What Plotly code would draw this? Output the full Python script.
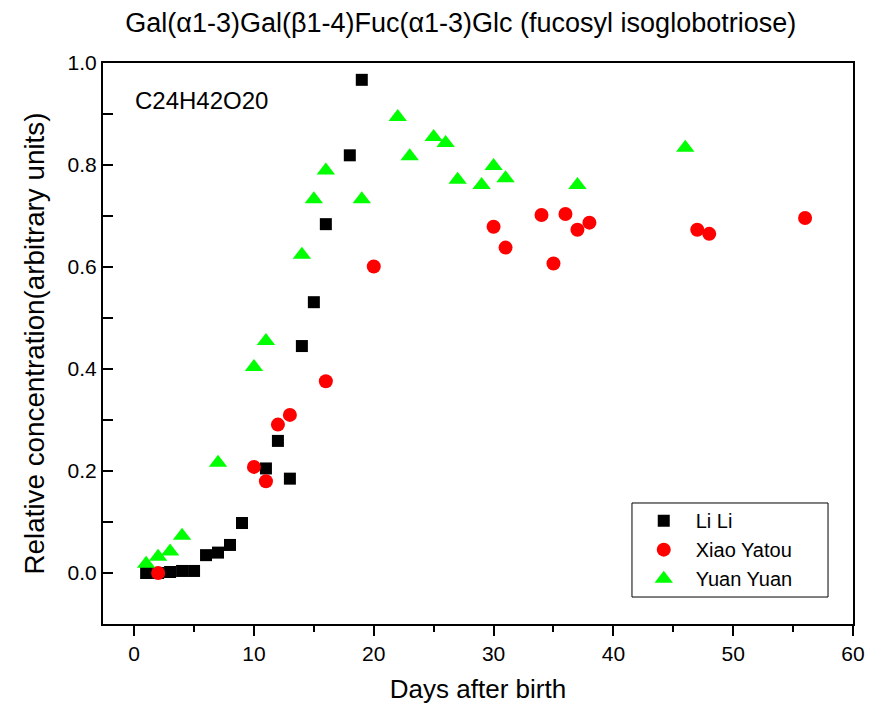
import plotly.graph_objects as go

title_text = "Gal(\u03b11-3)Gal(\u03b21-4)Fuc(\u03b11-3)Glc (fucosyl isoglobotriose)"
formula = "C24H42O20"
x_title = "Days after birth"
y_title = "Relative concentration(arbitrary units)"

lili_days = [1, 2, 3, 4, 5, 6, 7, 8, 9, 11, 12, 13, 14, 15, 16, 18, 19]
lili_vals = [0.0, 0.0, 0.002, 0.004, 0.004, 0.035, 0.04, 0.055, 0.098, 0.205, 0.259, 0.185,
             0.445, 0.531, 0.684, 0.819, 0.967]

xiao_days = [2, 10, 11, 12, 13, 16, 20, 30, 31, 34, 35, 36, 37, 38, 47, 48, 56]
xiao_vals = [0.0, 0.208, 0.18, 0.291, 0.31, 0.376, 0.601, 0.679, 0.638, 0.702, 0.607,
             0.704, 0.673, 0.687, 0.673, 0.665, 0.696]

yuan_days = [1, 2, 3, 4, 7, 10, 11, 14, 15, 16, 19, 22, 23, 25, 26, 27, 29, 30, 31, 37, 46]
yuan_vals = [0.018, 0.032, 0.042, 0.073, 0.216, 0.404, 0.455, 0.624, 0.733, 0.789, 0.733,
             0.894, 0.817, 0.855, 0.843, 0.771, 0.761, 0.798, 0.774, 0.761, 0.834]

FONT = "Liberation Sans, Arial, sans-serif"

fig = go.Figure()
fig.add_trace(go.Scatter(x=lili_days, y=lili_vals, mode="markers", name="Li Li",
                         marker=dict(symbol="square", size=12, color="black", line=dict(width=0))))
fig.add_trace(go.Scatter(x=xiao_days, y=xiao_vals, mode="markers", name="Xiao Yatou",
                         marker=dict(symbol="circle", size=14, color="#ff0000", line=dict(width=0))))
fig.add_trace(go.Scatter(x=yuan_days, y=yuan_vals, mode="markers", name="Yuan Yuan",
                         marker=dict(symbol="triangle-up", size=16, color="#00ff00", line=dict(width=0))))

fig.update_layout(
    width=869, height=708,
    margin=dict(l=95, r=24, t=55, b=92),
    paper_bgcolor="white", plot_bgcolor="white",
    font=dict(family=FONT, color="black"),
    title=dict(text=title_text, x=0.521, xanchor="center", y=0.980, yanchor="middle",
               font=dict(size=27, family=FONT)),
    xaxis=dict(range=[-2.6, 60], tickmode="linear", tick0=0, dtick=10,
               ticks="outside", ticklen=10, tickwidth=1.5, tickcolor="black",
               minor=dict(dtick=5, ticks="outside", ticklen=6, tickwidth=1.5, tickcolor="black"),
               showline=True, linewidth=2, linecolor="black", mirror=True,
               showgrid=False, zeroline=False,
               tickfont=dict(size=21), title=dict(text=x_title, font=dict(size=26), standoff=16)),
    yaxis=dict(range=[-0.1, 1.0], tickmode="linear", tick0=0, dtick=0.2, tickformat=".1f",
               ticks="inside", ticklen=10, tickwidth=1.5, tickcolor="black",
               minor=dict(dtick=0.1, ticks="inside", ticklen=10, tickwidth=1.5, tickcolor="black"),
               showline=True, linewidth=2, linecolor="black", mirror=True,
               showgrid=False, zeroline=False,
               tickfont=dict(size=21)),
    legend=dict(x=0.705, y=0.219, xanchor="left", yanchor="top",
                borderwidth=0, bgcolor="rgba(0,0,0,0)",
                font=dict(size=20), itemsizing="trace", tracegroupgap=0,
                itemwidth=54),
    showlegend=True,
)

# legend frame
fig.add_shape(type="rect", xref="paper", yref="paper",
              x0=0.7053, x1=0.9667, y0=0.0481, y1=0.2157,
              line=dict(color="black", width=1), fillcolor="rgba(0,0,0,0)", layer="below")

fig.add_annotation(text=y_title, xref="paper", yref="paper", x=-0.0907, y=0.5,
                   xanchor="center", yanchor="middle", textangle=-90, showarrow=False,
                   font=dict(size=27.8, family=FONT))

fig.add_annotation(text=formula, xref="paper", yref="paper", x=0.04, y=0.934,
                   xanchor="left", yanchor="middle", showarrow=False,
                   font=dict(size=24, family=FONT))

fig.write_html("out.html")
